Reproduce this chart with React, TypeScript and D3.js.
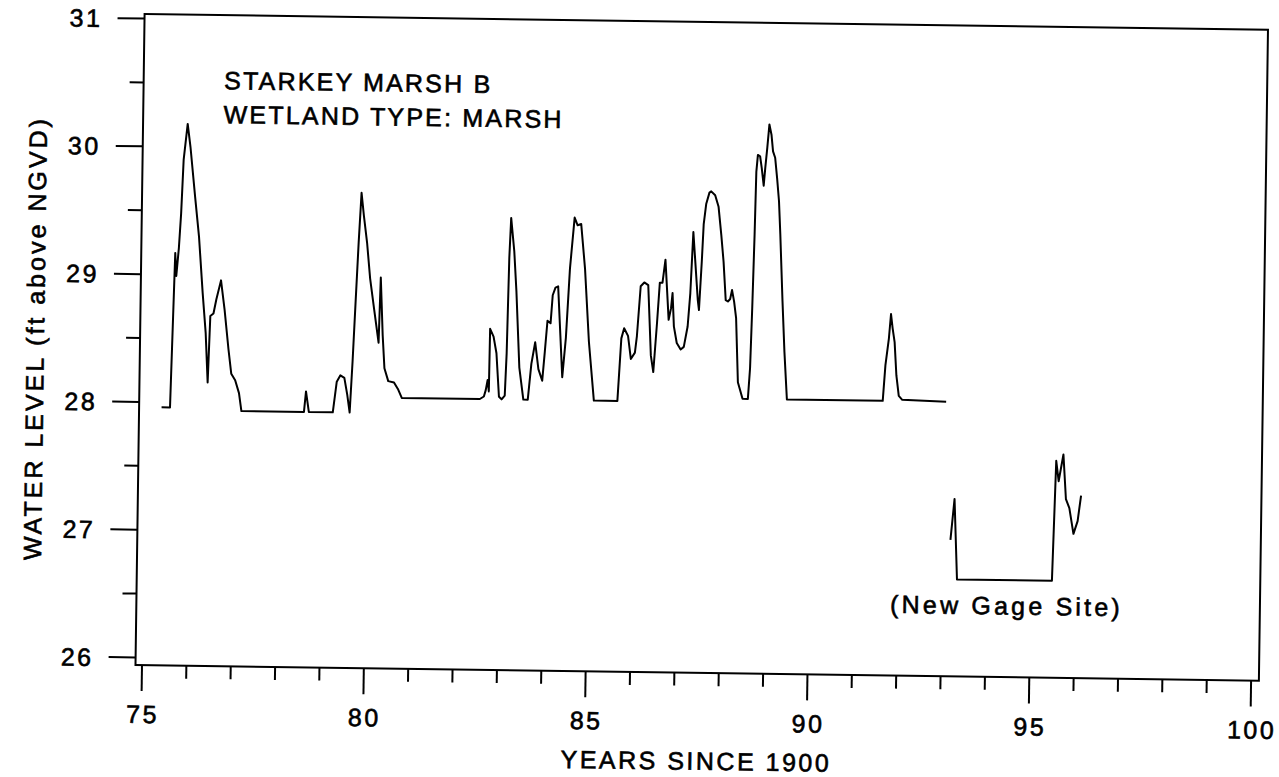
import React from "react";
import * as d3 from "d3";

// ---- Data (years since 1900, water level ft above NGVD) ----
const mainYears = [
  75.36, 75.55, 75.62, 75.65, 75.70, 75.74, 75.78, 75.86, 75.93, 76.05, 76.15, 76.25, 76.33, 76.39,
  76.43, 76.50, 76.56, 76.66, 76.75, 76.85, 76.92, 77.01, 77.10, 77.16, 78.57, 78.61, 78.68, 79.22,
  79.30, 79.38, 79.47, 79.54, 79.60, 79.65, 79.70, 79.75, 79.80, 79.86, 79.94, 80.02, 80.12, 80.23,
  80.26, 80.32, 80.37, 80.46, 80.59, 80.68, 80.77, 82.53, 82.62, 82.66, 82.70, 82.73, 82.74, 82.82,
  82.89, 82.96, 83.02, 83.09, 83.12, 83.15, 83.18, 83.26, 83.32, 83.41, 83.51, 83.61, 83.68, 83.76,
  83.84, 83.93, 83.98, 84.03, 84.10, 84.14, 84.20, 84.26, 84.38, 84.45, 84.52, 84.61, 84.68, 84.76,
  84.86, 84.97, 85.10, 85.63, 85.70, 85.76, 85.85, 85.92, 86.01, 86.05, 86.12, 86.20, 86.29, 86.37,
  86.43, 86.50, 86.55, 86.61, 86.67, 86.76, 86.81, 86.84, 86.88, 86.95, 87.04, 87.11, 87.19, 87.24,
  87.29, 87.34, 87.41, 87.44, 87.49, 87.52, 87.57, 87.64, 87.68, 87.77, 87.85, 87.92, 87.98, 88.04,
  88.09, 88.14, 88.18, 88.23, 88.28, 88.34, 88.45, 88.57, 88.61, 88.64, 88.67, 88.69, 88.72, 88.77,
  88.81, 88.86, 88.89, 88.93, 88.97, 89.02, 89.06, 89.11, 89.16, 89.21, 89.25, 89.32, 89.38, 89.45,
  91.61, 91.66, 91.73, 91.77, 91.81, 91.86, 91.91, 91.97, 92.05, 93.04,
];
const mainLevels = [
  27.96, 27.96, 29.17, 28.99, 29.21, 29.48, 29.90, 30.18, 30.00, 29.61, 29.30, 28.86, 28.55, 28.16,
  28.68, 28.70, 28.81, 28.96, 28.73, 28.42, 28.23, 28.18, 28.08, 27.94, 27.94, 28.10, 27.94, 27.94,
  28.18, 28.23, 28.21, 28.08, 27.94, 28.34, 28.81, 29.27, 29.66, 29.48, 29.27, 28.99, 28.75, 28.49,
  29.00, 28.55, 28.29, 28.19, 28.18, 28.13, 28.06, 28.06, 28.08, 28.13, 28.21, 28.12, 28.61, 28.55,
  28.42, 28.08, 28.06, 28.09, 28.42, 29.17, 29.48, 29.22, 28.91, 28.31, 28.06, 28.06, 28.34, 28.51,
  28.30, 28.21, 28.44, 28.68, 28.66, 28.88, 28.94, 28.95, 28.24, 28.55, 29.09, 29.49, 29.43, 29.44,
  29.09, 28.52, 28.06, 28.06, 28.55, 28.63, 28.57, 28.39, 28.44, 28.57, 28.96, 28.99, 28.97, 28.42,
  28.29, 28.68, 28.99, 28.99, 29.17, 28.70, 28.79, 28.91, 28.65, 28.52, 28.47, 28.49, 28.65, 28.91,
  29.39, 29.17, 28.86, 28.78, 29.17, 29.45, 29.61, 29.70, 29.71, 29.68, 29.59, 29.37, 29.16, 28.86,
  28.85, 28.87, 28.94, 28.85, 28.72, 28.22, 28.09, 28.09, 28.33, 28.80, 29.37, 29.87, 30.00, 29.99,
  29.90, 29.76, 29.90, 30.06, 30.24, 30.16, 30.03, 29.98, 29.82, 29.64, 29.38, 28.86, 28.46, 28.09,
  28.09, 28.37, 28.58, 28.77, 28.66, 28.55, 28.29, 28.13, 28.10, 28.09,
];
const newGageYears = [93.18, 93.26, 93.34, 95.48, 95.54, 95.60, 95.70, 95.77, 95.85, 95.95, 96.04, 96.11];
const newGageLevels = [27.01, 27.33, 26.70, 26.70, 27.64, 27.48, 27.69, 27.34, 27.27, 27.07, 27.17, 27.37];

const xMajorTicks = [75, 80, 85, 90, 95, 100];
const xMinorTicks = d3.range(75, 101, 1).filter((v) => v % 5 !== 0);
const yMajorTicks = [26, 27, 28, 29, 30, 31];
const yMinorTicks = [26.5, 27.5, 28.5, 29.5, 30.5];

const titleLines = ["STARKEY MARSH B", "WETLAND TYPE: MARSH"];
const xTitle = "YEARS SINCE 1900";
const yTitle = "WATER LEVEL (ft above NGVD)";
const noteText = "(New Gage Site)";

// ---- Layout (plot frame drawn in a slightly rotated frame like the scan) ----
const W = 1279;
const H = 777;
const originX = 135.5;
const originY = 665;
const rotation = 0.8;
const plotW = 1123.5;
const plotH = 651;

const FONT = "'Liberation Sans', Arial, Helvetica, sans-serif";
const FS = 25;
const LS = 2.5;

export default function App() {
  const x = d3.scaleLinear().domain([75, 100]).range([6.5, 1115.7]);
  const y = d3.scaleLinear().domain([26, 31]).range([-7.5, -646.5]);

  const line = d3
    .line<[number, number]>()
    .x((d) => x(d[0]))
    .y((d) => y(d[1]));

  const mainData: [number, number][] = mainYears.map((yr, i) => [yr, mainLevels[i]]);
  const gageData: [number, number][] = newGageYears.map((yr, i) => [yr, newGageLevels[i]]);

  const textStyle = {
    fontFamily: FONT,
    fontSize: FS,
    letterSpacing: LS,
    fill: "#000",
    stroke: "#000",
    strokeWidth: 0.6,
  } as React.CSSProperties;

  return (
    <svg
      width={W}
      height={H}
      viewBox={`0 0 ${W} ${H}`}
      style={{ position: "absolute", left: 0, top: 0, background: "#fff" }}
    >
      <rect x={0} y={0} width={W} height={H} fill="#fff" />
      <g transform={`translate(${originX},${originY}) rotate(${rotation})`}>
        {/* frame */}
        <rect x={0} y={-plotH} width={plotW} height={plotH} fill="none" stroke="#000" strokeWidth={2} />

        {/* x ticks */}
        {xMajorTicks.map((t) => (
          <line key={"xM" + t} x1={x(t)} x2={x(t)} y1={0} y2={26} stroke="#000" strokeWidth={2} />
        ))}
        {xMinorTicks.map((t) => (
          <line key={"xm" + t} x1={x(t)} x2={x(t)} y1={0} y2={13} stroke="#000" strokeWidth={2} />
        ))}
        {xMajorTicks.map((t) => (
          <text key={"xl" + t} x={x(t) + LS / 2} y={58} textAnchor="middle" style={textStyle}>
            {t}
          </text>
        ))}

        {/* y ticks */}
        {yMajorTicks.map((t) => (
          <line key={"yM" + t} x1={-27} x2={0} y1={y(t)} y2={y(t)} stroke="#000" strokeWidth={2} />
        ))}
        {yMinorTicks.map((t) => (
          <line key={"ym" + t} x1={-14} x2={0} y1={y(t)} y2={y(t)} stroke="#000" strokeWidth={2} />
        ))}
        {yMajorTicks.map((t) => (
          <text key={"yl" + t} x={-42} y={y(t) + 9} textAnchor="end" style={textStyle}>
            {t}
          </text>
        ))}

        {/* axis titles */}
        <text x={plotW / 2} y={97} textAnchor="middle" style={textStyle}>
          {xTitle}
        </text>
        <text
          transform={`translate(-96,${-plotH / 2}) rotate(-90)`}
          textAnchor="middle"
          style={{ ...textStyle, letterSpacing: 3 }}
        >
          {yTitle}
        </text>

        {/* chart title */}
        {titleLines.map((s, i) => (
          <text key={"t" + i} x={80.5} y={-577 + i * 34} style={{ ...textStyle, letterSpacing: 2.2 }}>
            {s}
          </text>
        ))}

        {/* data */}
        <path d={line(mainData) || ""} fill="none" stroke="#000" strokeWidth={2} strokeLinejoin="round" />
        <path d={line(gageData) || ""} fill="none" stroke="#000" strokeWidth={2} strokeLinejoin="round" />

        <text x={753.8} y={-62.6} style={{ ...textStyle, letterSpacing: 3.2 }}>
          {noteText}
        </text>
      </g>
    </svg>
  );
}
